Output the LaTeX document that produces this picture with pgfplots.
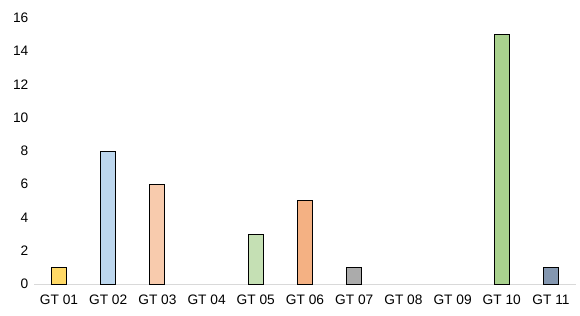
\documentclass[border=0pt]{standalone}
\usepackage{pgfplots}
\pgfplotsset{compat=1.18}
\usepackage{fontspec}
\setmainfont{Liberation Sans}
\definecolor{c01}{HTML}{FFD966}
\definecolor{c02}{HTML}{BDD7EE}
\definecolor{c03}{HTML}{F8CBAD}
\definecolor{c05}{HTML}{C5E0B4}
\definecolor{c06}{HTML}{F4B183}
\definecolor{c07}{HTML}{ABABAB}
\definecolor{c10}{HTML}{A9D18E}
\definecolor{c11}{HTML}{8497B0}
\definecolor{axgray}{HTML}{D9D9D9}
\begin{document}
\begin{tikzpicture}
\useasboundingbox (-25.8pt,-23.25pt) rectangle (409.2pt,213pt);
\begin{axis}[
  at={(0,0)}, anchor=south west,
  scale only axis, width=405.9pt, height=199.5pt,
  xmin=-0.5, xmax=10.5, ymin=0, ymax=16,
  ytick={0,2,...,16},
  xtick={0,...,10},
  xticklabels={GT 01,GT 02,GT 03,GT 04,GT 05,GT 06,GT 07,GT 08,GT 09,GT 10,GT 11},
  axis x line*=bottom, axis y line*=left,
  x axis line style={draw=axgray, line width=0.75pt, -},
  y axis line style={draw=none},
  major tick length=0pt,
  tick style={draw=none},
  ticklabel style={font=\fontsize{10.3}{12}\selectfont, text=black},
  /pgf/number format/assume math mode=true,
  xticklabel style={yshift=-4.5pt},
  yticklabel style={xshift=-1pt},
  ybar, bar width=11.25pt, bar shift=0pt,
  every axis plot/.append style={draw=black, line width=0.75pt},
  clip=false,
]
\addplot[fill=c01] coordinates {(0,1)};
\addplot[fill=c02] coordinates {(1,8)};
\addplot[fill=c03] coordinates {(2,6)};
\addplot[fill=c05] coordinates {(4,3)};
\addplot[fill=c06] coordinates {(5,5)};
\addplot[fill=c07] coordinates {(6,1)};
\addplot[fill=c10] coordinates {(9,15)};
\addplot[fill=c11] coordinates {(10,1)};
\end{axis}
\end{tikzpicture}
\end{document}
